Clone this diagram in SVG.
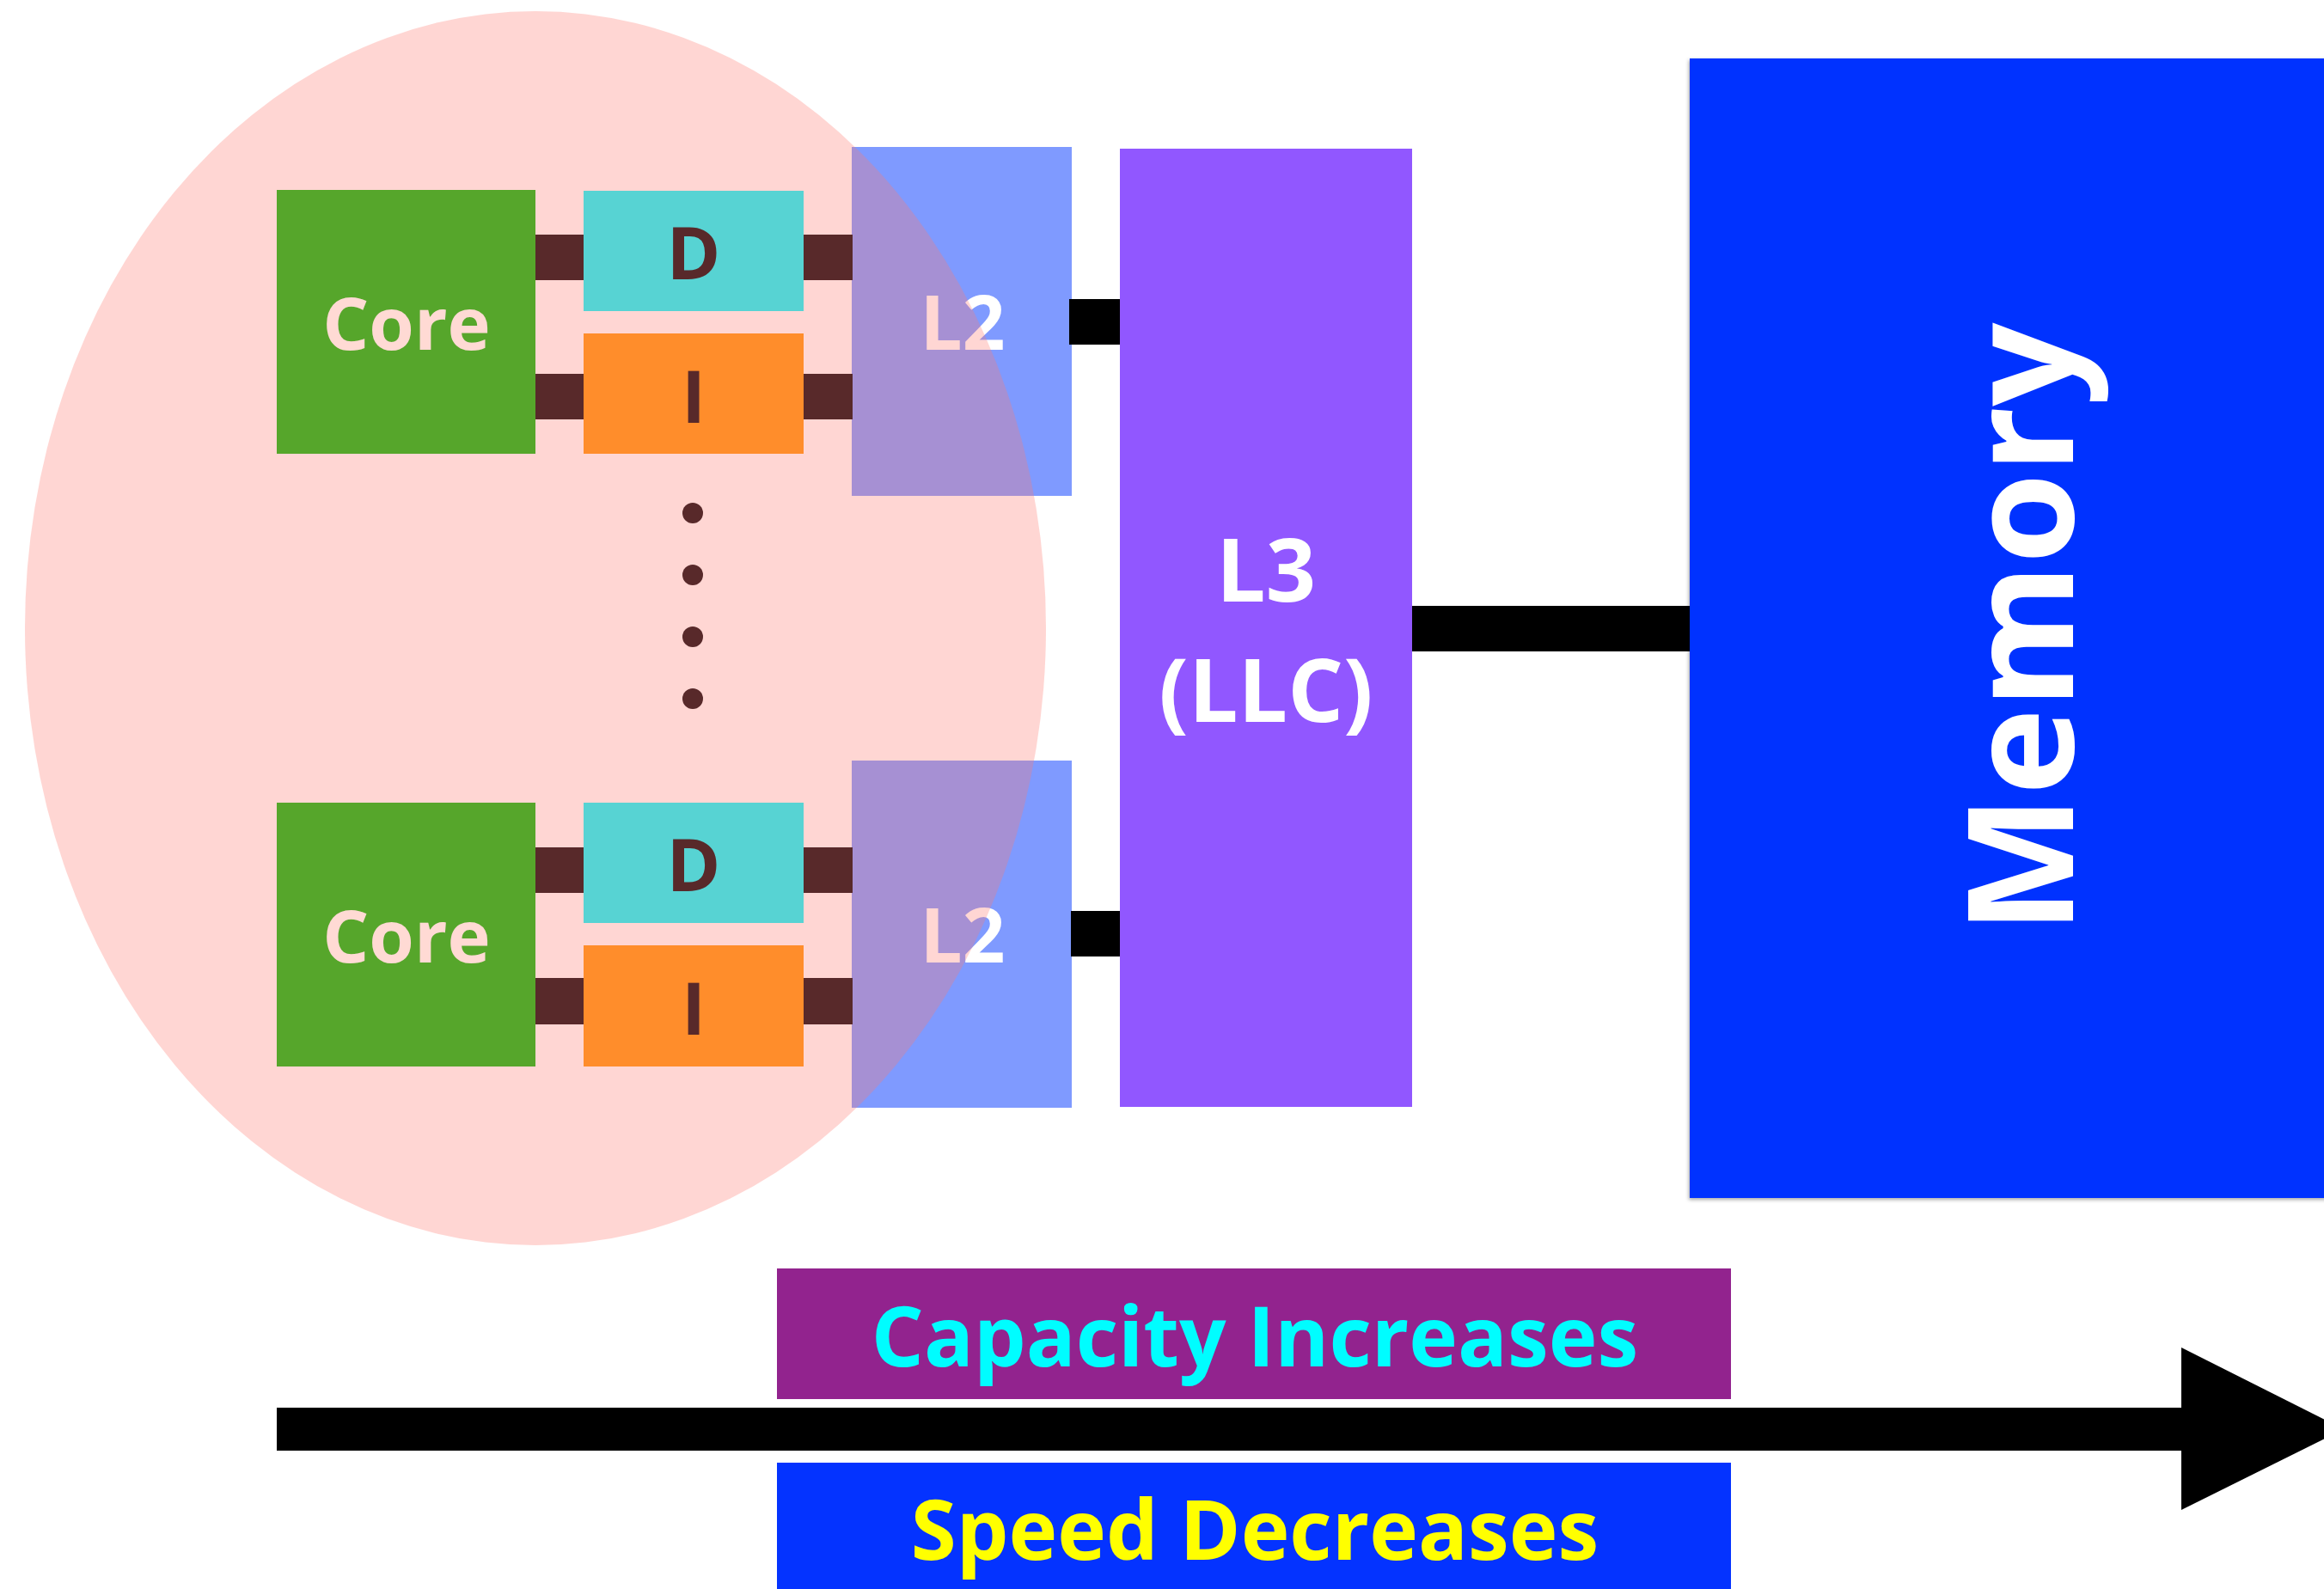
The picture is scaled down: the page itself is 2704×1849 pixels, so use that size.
<svg xmlns="http://www.w3.org/2000/svg" width="2704" height="1849" viewBox="0 0 2704 1849">
<defs>
<style>
.t{font-family:"Open Sans","Noto Sans","DejaVu Sans",sans-serif;font-weight:700;text-anchor:middle}
.core{fill:#56A62B}
.d{fill:#57D3D3}
.i{fill:#FF8D2B}
.l2{fill:#7F9AFF}
.bar{fill:#58292A}
.blk{fill:#000}
.ct{fill:#FFDAD4;font-size:85px}
.dt{fill:#58292A;font-size:85px}
.wt{fill:#FFFFFF}
</style>
<filter id="sh" x="-5%" y="-5%" width="110%" height="110%">
<feDropShadow dx="-1" dy="2" stdDeviation="2" flood-color="#000" flood-opacity="0.35"/>
</filter>
</defs>
<rect width="2704" height="1849" fill="#FFFFFF"/>

<g id="l2-top"><rect class="l2" x="991" y="171" width="256" height="406"/><text class="t wt" x="1120" y="407" font-size="87">L2</text></g>
<g id="l2-bottom"><rect class="l2" x="991" y="885" width="256" height="404"/><text class="t wt" x="1120" y="1120" font-size="87">L2</text></g>

<g id="cluster"><ellipse cx="623" cy="731" rx="594" ry="718" fill="#FF7A70" fill-opacity="0.31"/></g>

<g id="connectors">
<rect class="bar" x="622" y="273" width="58" height="53"/>
<rect class="bar" x="622" y="435" width="58" height="53"/>
<rect class="bar" x="934" y="273" width="58" height="53"/>
<rect class="bar" x="934" y="435" width="58" height="53"/>
<rect class="bar" x="622" y="986" width="58" height="53"/>
<rect class="bar" x="622" y="1138" width="58" height="54"/>
<rect class="bar" x="934" y="986" width="58" height="53"/>
<rect class="bar" x="934" y="1138" width="58" height="54"/>
<rect class="blk" x="1244" y="348" width="60" height="53"/>
<rect class="blk" x="1246" y="1060" width="58" height="53"/>
<rect class="blk" x="1642" y="705" width="326" height="53"/>
<rect class="blk" x="322" y="1638" width="2218" height="50"/>
<polygon class="blk" points="2538,1568 2727,1663 2538,1757"/>
</g>

<g id="core-top"><rect class="core" x="322" y="221" width="301" height="307"/><text class="t ct" x="473" y="407">Core</text></g>
<g id="d-top"><rect class="d" x="679" y="222" width="256" height="140"/><text class="t dt" x="807" y="325">D</text></g>
<g id="i-top"><rect class="i" x="679" y="388" width="256" height="140"/><text class="t dt" x="807" y="492">I</text></g>

<g id="dots">
<circle class="bar" cx="806" cy="597" r="12"/>
<circle class="bar" cx="806" cy="669" r="12"/>
<circle class="bar" cx="806" cy="741" r="12"/>
<circle class="bar" cx="806" cy="813" r="12"/>
</g>

<g id="core-bottom"><rect class="core" x="322" y="934" width="301" height="307"/><text class="t ct" x="473" y="1120">Core</text></g>
<g id="d-bottom"><rect class="d" x="679" y="934" width="256" height="140"/><text class="t dt" x="807" y="1037">D</text></g>
<g id="i-bottom"><rect class="i" x="679" y="1100" width="256" height="141"/><text class="t dt" x="807" y="1204">I</text></g>

<g id="l3"><rect x="1303" y="173" width="340" height="1115" fill="#9157FF"/>
<text class="t wt" x="1473" y="700" font-size="102">L3</text>
<text class="t wt" x="1473" y="840" font-size="102">(LLC)</text></g>

<g id="memory"><rect x="1966" y="68" width="760" height="1326" fill="#0433FF" filter="url(#sh)"/>
<text class="t wt" font-size="171" transform="translate(2412,731) rotate(-90)" x="0" y="0">Memory</text></g>

<g id="capacity"><rect x="904" y="1476" width="1110" height="152" fill="#92238E"/>
<text class="t" x="1460" y="1590" font-size="96" fill="#00FDFF">Capacity Increases</text></g>

<g id="speed"><rect x="904" y="1702" width="1110" height="160" fill="#0433FF"/>
<text class="t" x="1460" y="1815" font-size="96" fill="#FFFF00">Speed Decreases</text></g>
</svg>
